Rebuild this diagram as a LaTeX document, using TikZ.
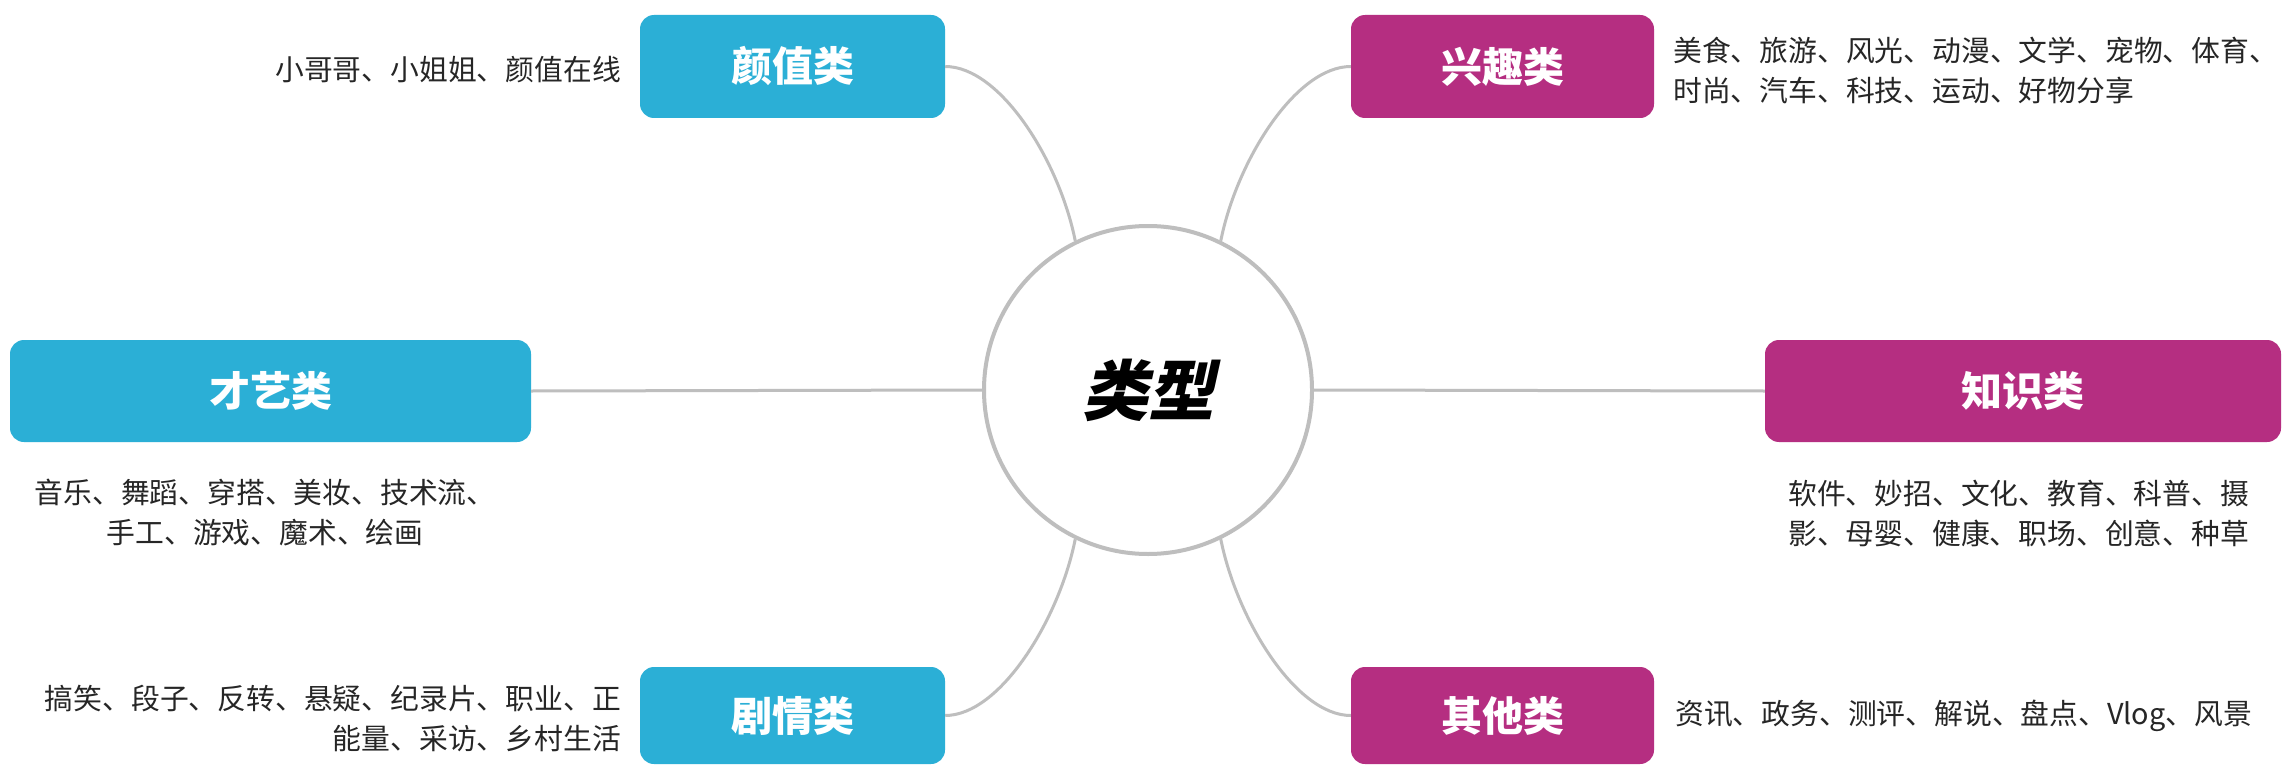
\documentclass[tikz,border=0pt]{standalone}
\usepackage{fontspec}
\setmainfont{Noto Sans CJK SC}
\newfontfamily\slantcjk[FakeSlant=0.22]{Noto Sans CJK SC}
\definecolor{boxblue}{HTML}{2BAFD6}
\definecolor{boxpink}{HTML}{B52E81}
\definecolor{linegray}{HTML}{BEBEBE}
\definecolor{desctext}{HTML}{262626}
\begin{document}
\begin{tikzpicture}[x=1pt,y=-1pt,
  catbox/.style={rectangle, rounded corners=14pt, inner sep=0pt, text=white,
    font=\fontsize{41}{41}\selectfont\bfseries},
  bluecat/.style={catbox, fill=boxblue},
  pinkcat/.style={catbox, fill=boxpink},
  desc/.style={inner sep=0pt, text=desctext, font=\fontsize{28.8}{40}\selectfont},
  link/.style={draw=linegray, line width=3pt},
  hub/.style={circle, draw=linegray, line width=4pt, fill=white, minimum size=328pt,
    inner sep=0pt, font=\slantcjk\bfseries\fontsize{66}{66}\selectfont}
]
\useasboundingbox (0,0) rectangle (2282,765);
\fill[white] (0,0) rectangle (2282,765);

% hub
\node[hub] (c) at (1148,390) {类型};

% category boxes
\node[bluecat, minimum width=305pt, minimum height=103pt] (yz) at (792.5,66.5) {颜值类};
\node[pinkcat, minimum width=303pt, minimum height=103pt] (xq) at (1502.5,66.5) {兴趣类};
\node[bluecat, minimum width=521pt, minimum height=102pt] (cy) at (270.5,391) {才艺类};
\node[pinkcat, minimum width=516pt, minimum height=102pt] (zs) at (2023,391) {知识类};
\node[bluecat, minimum width=305pt, minimum height=97pt] (jq) at (792.5,715.5) {剧情类};
\node[pinkcat, minimum width=303pt, minimum height=97pt] (qt) at (1502.5,715.5) {其他类};

% descriptions
\node[desc, anchor=east] (yzd) at (621,70) {小哥哥、小姐姐、颜值在线};
\node[desc, anchor=west, align=left] (xqd) at (1673,70) {美食、旅游、风光、动漫、文学、宠物、体育、\\时尚、汽车、科技、运动、好物分享};
\node[desc, align=center] (cyd) at (265,513) {音乐、舞蹈、穿搭、美妆、技术流、\\手工、游戏、魔术、绘画};
\node[desc, anchor=west, align=left] (zsd) at (1788,513) {软件、妙招、文化、教育、科普、摄\\影、母婴、健康、职场、创意、种草};
\node[desc, anchor=east, align=right] (jqd) at (621,718) {搞笑、段子、反转、悬疑、纪录片、职业、正\\能量、采访、乡村生活};
\node[desc, anchor=west] (qtd) at (1675,716) {资讯、政务、测评、解说、盘点、Vlog、风景};

% connectors
\draw[link] (yz.east) .. controls +(55,0) and +(-16,-80) .. (c.116);
\draw[link] (xq.west) .. controls +(-55,0) and +(16,-80) .. (c.64);
\draw[link] (jq.east) .. controls +(55,0) and +(-16,80) .. (c.244);
\draw[link] (qt.west) .. controls +(-55,0) and +(16,80) .. (c.296);
\draw[link] (cy.east) -- (c.west);
\draw[link] (c.east) -- (zs.west);
\end{tikzpicture}
\end{document}
